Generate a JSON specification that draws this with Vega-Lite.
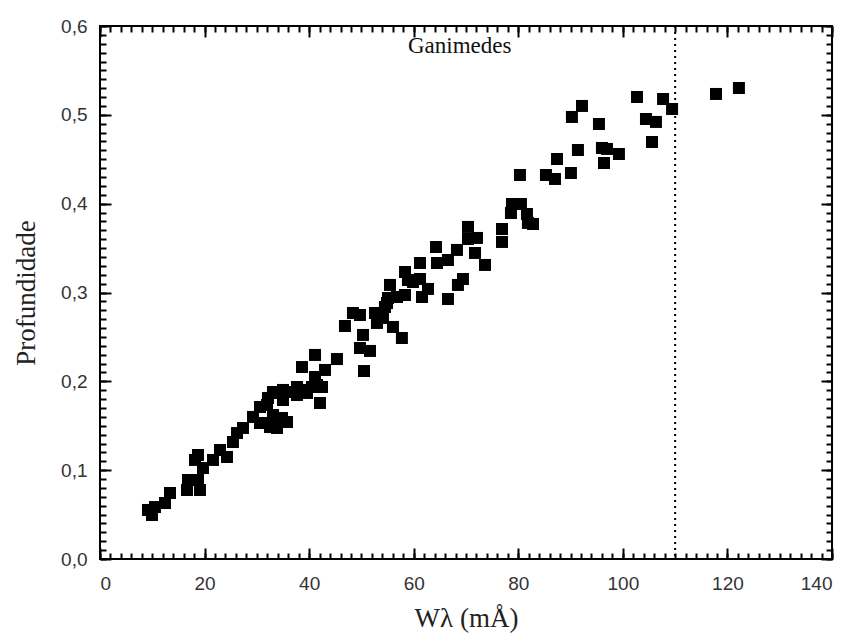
{
  "$schema": "https://vega.github.io/schema/vega-lite/v6.json",
  "width": 732,
  "height": 533,
  "autosize": "none",
  "padding": {"left": 100, "top": 26, "right": 20, "bottom": 81},
  "background": "white",
  "config": {
    "view": {"stroke": "black", "strokeWidth": 2},
    "axis": {"domain": false, "grid": false, "tickColor": "black", "tickWidth": 2, "labelFont": "Liberation Sans", "labelFontSize": 19, "labelColor": "#333", "titleFont": "Liberation Serif", "titleFontSize": 27, "titleFontWeight": "normal", "titleColor": "#222"}
  },
  "datasets": {
    "pts": [
      {"w": 9.18, "p": 0.0552}, {"w": 9.94, "p": 0.0495}, {"w": 10.52, "p": 0.0585}, {"w": 12.43, "p": 0.063},
      {"w": 13.39, "p": 0.0743}, {"w": 16.64, "p": 0.0777}, {"w": 16.83, "p": 0.0889}, {"w": 18.74, "p": 0.0889},
      {"w": 19.12, "p": 0.0777}, {"w": 18.17, "p": 0.1115}, {"w": 18.74, "p": 0.1171}, {"w": 19.7, "p": 0.1024},
      {"w": 21.61, "p": 0.1115}, {"w": 22.95, "p": 0.1227}, {"w": 24.29, "p": 0.1148}, {"w": 25.43, "p": 0.1317},
      {"w": 26.2, "p": 0.1418}, {"w": 27.35, "p": 0.1475}, {"w": 29.26, "p": 0.1599}, {"w": 30.6, "p": 0.1531},
      {"w": 31.17, "p": 0.1531}, {"w": 31.94, "p": 0.1734}, {"w": 32.51, "p": 0.1486}, {"w": 33.85, "p": 0.1475},
      {"w": 33.85, "p": 0.1869}, {"w": 33.08, "p": 0.1621}, {"w": 34.81, "p": 0.1587}, {"w": 35.76, "p": 0.1542},
      {"w": 35.0, "p": 0.179}, {"w": 35.0, "p": 0.1903}, {"w": 36.34, "p": 0.188}, {"w": 37.67, "p": 0.1846},
      {"w": 38.82, "p": 0.1903}, {"w": 37.67, "p": 0.1936}, {"w": 30.6, "p": 0.1711}, {"w": 32.13, "p": 0.1812},
      {"w": 33.08, "p": 0.188}, {"w": 39.59, "p": 0.1869}, {"w": 40.54, "p": 0.1936}, {"w": 41.5, "p": 0.1959},
      {"w": 42.07, "p": 0.1756}, {"w": 42.46, "p": 0.1936}, {"w": 41.12, "p": 0.2049}, {"w": 38.63, "p": 0.2161},
      {"w": 41.12, "p": 0.2297}, {"w": 43.03, "p": 0.2128}, {"w": 45.32, "p": 0.2251}, {"w": 46.85, "p": 0.2623},
      {"w": 48.38, "p": 0.2769}, {"w": 49.72, "p": 0.2747}, {"w": 50.3, "p": 0.2522}, {"w": 49.72, "p": 0.2375},
      {"w": 50.49, "p": 0.2116}, {"w": 51.64, "p": 0.2342}, {"w": 52.59, "p": 0.2769}, {"w": 52.97, "p": 0.2657},
      {"w": 54.12, "p": 0.2713}, {"w": 56.03, "p": 0.2612}, {"w": 57.74, "p": 0.2488}, {"w": 54.5, "p": 0.2837},
      {"w": 54.89, "p": 0.2882}, {"w": 55.08, "p": 0.2938}, {"w": 55.46, "p": 0.3085}, {"w": 56.8, "p": 0.2949},
      {"w": 58.33, "p": 0.2972}, {"w": 58.9, "p": 0.3141}, {"w": 58.33, "p": 0.3231}, {"w": 59.86, "p": 0.3118},
      {"w": 61.2, "p": 0.3152}, {"w": 61.2, "p": 0.3332}, {"w": 61.58, "p": 0.2949}, {"w": 62.73, "p": 0.304},
      {"w": 64.26, "p": 0.3512}, {"w": 64.45, "p": 0.3332}, {"w": 66.55, "p": 0.3366}, {"w": 66.55, "p": 0.2927},
      {"w": 68.27, "p": 0.3479}, {"w": 68.46, "p": 0.3085}, {"w": 69.42, "p": 0.3152}, {"w": 70.38, "p": 0.3738},
      {"w": 70.38, "p": 0.3602}, {"w": 71.72, "p": 0.3445}, {"w": 72.1, "p": 0.3614}, {"w": 73.63, "p": 0.331},
      {"w": 76.88, "p": 0.3715}, {"w": 76.88, "p": 0.3569}, {"w": 78.79, "p": 0.3996}, {"w": 80.51, "p": 0.3996},
      {"w": 78.6, "p": 0.3895}, {"w": 81.66, "p": 0.3884}, {"w": 81.85, "p": 0.3783}, {"w": 82.81, "p": 0.3771},
      {"w": 80.32, "p": 0.4323}, {"w": 85.29, "p": 0.4323}, {"w": 87.02, "p": 0.4278}, {"w": 87.4, "p": 0.4503},
      {"w": 90.07, "p": 0.4345}, {"w": 90.26, "p": 0.4976}, {"w": 92.18, "p": 0.51}, {"w": 91.41, "p": 0.4604},
      {"w": 95.43, "p": 0.4897}, {"w": 96.0, "p": 0.4627}, {"w": 96.96, "p": 0.4616}, {"w": 96.39, "p": 0.4458},
      {"w": 99.25, "p": 0.4559}, {"w": 102.7, "p": 0.5201}, {"w": 104.42, "p": 0.4953}, {"w": 106.33, "p": 0.492},
      {"w": 105.57, "p": 0.4694}, {"w": 107.69, "p": 0.5178}, {"w": 109.41, "p": 0.5066}, {"w": 117.81, "p": 0.5235},
      {"w": 122.2, "p": 0.5302}
    ]
  },
  "resolve": {"axis": {"x": "independent", "y": "independent"}},
  "layer": [
    {
      "data": {"name": "pts"},
      "mark": {"type": "square", "size": 144, "color": "black", "opacity": 1, "filled": true},
      "encoding": {
        "x": {"field": "w", "type": "quantitative", "scale": {"domain": [0, 140], "nice": false, "zero": false},
          "axis": {"orient": "bottom", "values": [0, 20, 40, 60, 80, 100, 120, 140], "tickSize": -11, "labelPadding": 26, "title": "Wλ (mÅ)", "titlePadding": 12}},
        "y": {"field": "p", "type": "quantitative", "scale": {"domain": [0, 0.6], "nice": false, "zero": false},
          "axis": {"orient": "left", "values": [0, 0.1, 0.2, 0.3, 0.4, 0.5, 0.6], "tickSize": -11, "labelPadding": 24, "labelExpr": "replace(format(datum.value, '.1f'), '.', ',')", "title": "Profundidade", "titlePadding": 20}}
      }
    },
    {
      "data": {"name": "pts"},
      "mark": {"type": "point", "opacity": 0},
      "encoding": {
        "x": {"field": "w", "type": "quantitative", "axis": {"orient": "bottom", "values": [0,2,4,6,8,10,12,14,16,18,20,22,24,26,28,30,32,34,36,38,40,42,44,46,48,50,52,54,56,58,60,62,64,66,68,70,72,74,76,78,80,82,84,86,88,90,92,94,96,98,100,102,104,106,108,110,112,114,116,118,120,122,124,126,128,130,132,134,136,138,140], "tickSize": -6, "labels": false, "title": null}},
        "y": {"field": "p", "type": "quantitative", "axis": {"orient": "left", "values": [0,0.01,0.02,0.03,0.04,0.05,0.06,0.07,0.08,0.09,0.1,0.11,0.12,0.13,0.14,0.15,0.16,0.17,0.18,0.19,0.2,0.21,0.22,0.23,0.24,0.25,0.26,0.27,0.28,0.29,0.3,0.31,0.32,0.33,0.34,0.35,0.36,0.37,0.38,0.39,0.4,0.41,0.42,0.43,0.44,0.45,0.46,0.47,0.48,0.49,0.5,0.51,0.52,0.53,0.54,0.55,0.56,0.57,0.58,0.59,0.6], "tickSize": -6, "labels": false, "title": null}}
      }
    },
    {
      "data": {"name": "pts"},
      "mark": {"type": "point", "opacity": 0},
      "encoding": {
        "x": {"field": "w", "type": "quantitative", "axis": {"orient": "top", "values": [0, 20, 40, 60, 80, 100, 120, 140], "tickSize": -11, "labels": false, "title": null}},
        "y": {"field": "p", "type": "quantitative", "axis": {"orient": "right", "values": [0, 0.1, 0.2, 0.3, 0.4, 0.5, 0.6], "tickSize": -11, "labels": false, "title": null}}
      }
    },
    {
      "data": {"name": "pts"},
      "mark": {"type": "point", "opacity": 0},
      "encoding": {
        "x": {"field": "w", "type": "quantitative", "axis": {"orient": "top", "values": [0,2,4,6,8,10,12,14,16,18,20,22,24,26,28,30,32,34,36,38,40,42,44,46,48,50,52,54,56,58,60,62,64,66,68,70,72,74,76,78,80,82,84,86,88,90,92,94,96,98,100,102,104,106,108,110,112,114,116,118,120,122,124,126,128,130,132,134,136,138,140], "tickSize": -6, "labels": false, "title": null}},
        "y": {"field": "p", "type": "quantitative", "axis": {"orient": "right", "values": [0,0.01,0.02,0.03,0.04,0.05,0.06,0.07,0.08,0.09,0.1,0.11,0.12,0.13,0.14,0.15,0.16,0.17,0.18,0.19,0.2,0.21,0.22,0.23,0.24,0.25,0.26,0.27,0.28,0.29,0.3,0.31,0.32,0.33,0.34,0.35,0.36,0.37,0.38,0.39,0.4,0.41,0.42,0.43,0.44,0.45,0.46,0.47,0.48,0.49,0.5,0.51,0.52,0.53,0.54,0.55,0.56,0.57,0.58,0.59,0.6], "tickSize": -6, "labels": false, "title": null}}
      }
    },
    {
      "data": {"values": [{"w": 110}]},
      "mark": {"type": "rule", "color": "black", "strokeWidth": 2, "strokeDash": [2, 4]},
      "encoding": {
        "x": {"field": "w", "type": "quantitative", "axis": null}
      }
    },
    {
      "data": {"values": [{"w": 68.8, "p": 0.577, "label": "Ganimedes"}]},
      "mark": {"type": "text", "font": "Liberation Serif", "fontSize": 23, "color": "#111", "align": "center", "baseline": "middle"},
      "encoding": {
        "x": {"field": "w", "type": "quantitative", "axis": null},
        "y": {"field": "p", "type": "quantitative", "axis": null},
        "text": {"field": "label"}
      }
    }
  ]
}
